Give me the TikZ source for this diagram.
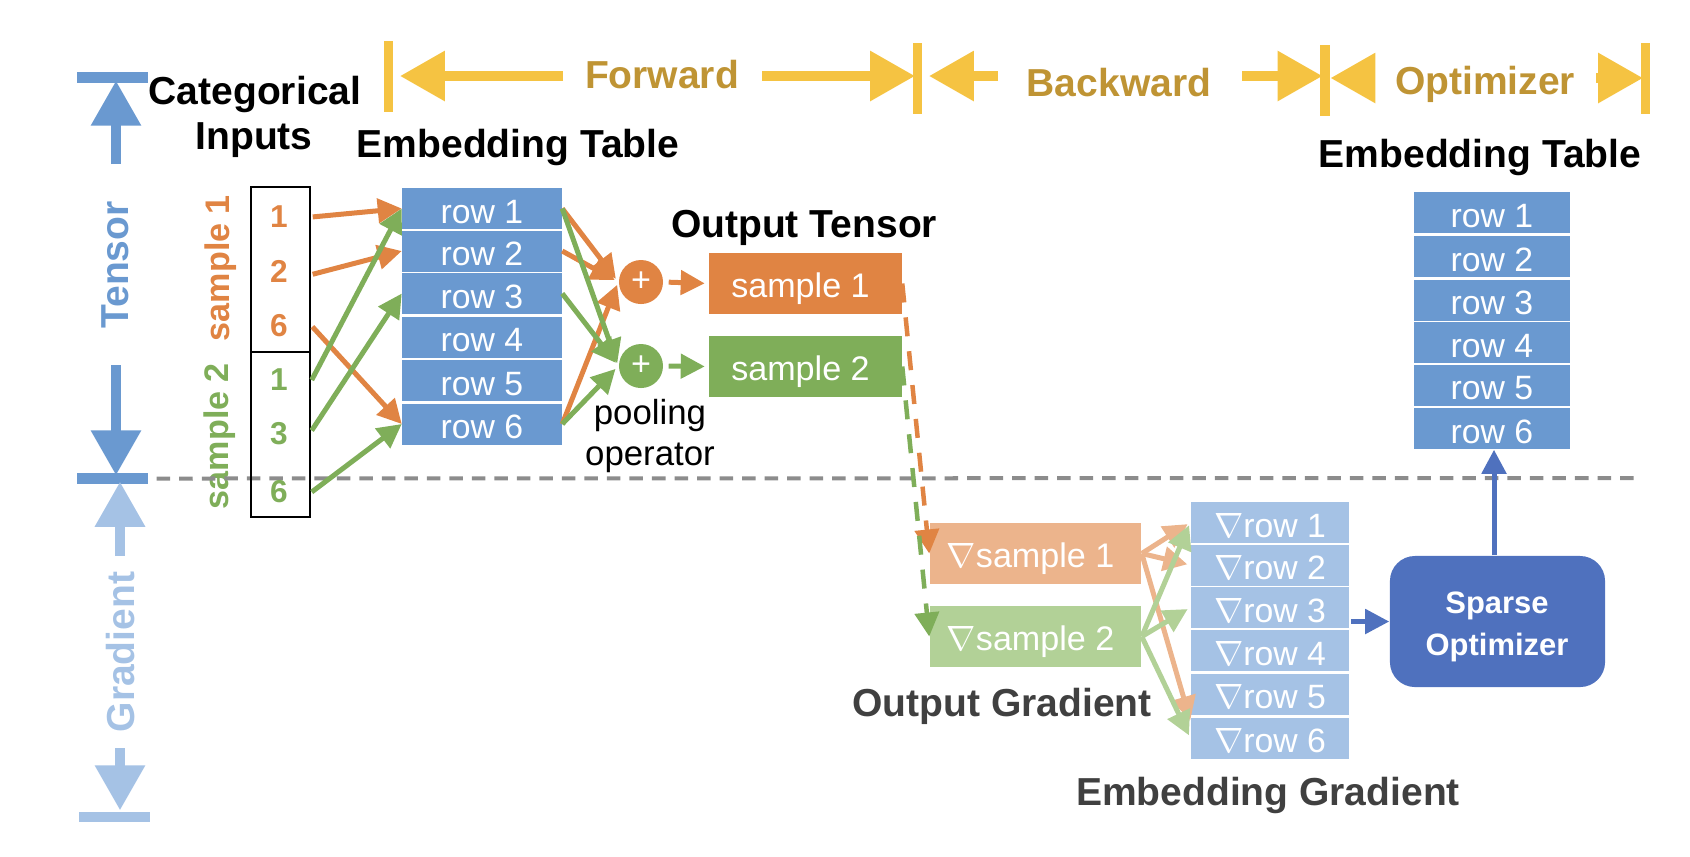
\documentclass[tikz,border=0pt]{standalone}
\usepackage{amsmath}
\usepackage{fontspec}
\setmainfont{Liberation Sans}
\usetikzlibrary{arrows.meta}
\definecolor{tensorblue}{HTML}{6A99D0}
\definecolor{gradblue}{HTML}{A5C2E5}
\definecolor{bandyellow}{HTML}{F5C342}
\definecolor{bandgold}{HTML}{BF9434}
\definecolor{sampleorange}{HTML}{E08443}
\definecolor{samplegreen}{HTML}{7FAE59}
\definecolor{lightorange}{HTML}{ECB48C}
\definecolor{lightgreen}{HTML}{B2D197}
\definecolor{optblue}{HTML}{4F71BE}
\tikzset{
  heading/.style={inner sep=0,font=\fontsize{11.1}{13}\selectfont\bfseries},
  bandtext/.style={heading,text=bandgold},
  sidetext/.style={heading,rotate=90},
  grouptext/.style={inner sep=0,rotate=90,font=\fontsize{9.7}{12}\selectfont\bfseries},
  digit/.style={inner sep=0,minimum width=0.64cm,font=\fontsize{9}{10}\selectfont\bfseries},
  rowbox/.style={fill=tensorblue,text=white,inner sep=0,minimum width=1.59cm,minimum height=0.41cm,text height=8.3pt,text depth=0pt,font=\fontsize{9.6}{11}\selectfont},
  gradrow/.style={rowbox,fill=gradblue},
  samplebox/.style={text=white,inner sep=0,minimum width=1.92cm,minimum height=0.61cm,text height=8pt,text depth=0pt,font=\fontsize{9.7}{11}\selectfont,execute at end node=\kern0.1cm},
  gradbox/.style={samplebox,minimum width=2.11cm,execute at end node=},
  plusdot/.style={circle,text=white,inner sep=0,minimum size=0.44cm,font=\fontsize{9.7}{11}\selectfont},
  barmark/.style={inner sep=0,minimum width=0.095cm,minimum height=0.71cm,fill=bandyellow},
  tickmark/.style={inner sep=0,minimum width=0.71cm,minimum height=0.11cm},
  bigarrow/.style={-{Triangle[length=0.45cm,width=0.48cm]},line width=0.095cm,shorten >=-0.03cm},
  thinarrow/.style={-{Triangle[length=0.24cm,width=0.24cm]},line width=0.05cm},
}
\begin{document}
\begin{tikzpicture}[x=0.01cm,y=-0.01cm]
  \useasboundingbox (0,0) rectangle (1690,856);
  % tensor and gradient scale
  \node[tickmark,fill=tensorblue] (tick1) at (112.5,77.5) {};
  \node[tickmark,fill=tensorblue] (tick2) at (112.5,478.5) {};
  \node[tickmark,fill=gradblue,minimum height=0.10cm] (tick3) at (114.5,817) {};
  \node[sidetext,text=tensorblue] (tensor) at (115,265) {Tensor};
  \node[sidetext,text=gradblue] (gradient) at (121,652) {Gradient};
  \coordinate (tensorup) at (116,164);
  \coordinate (tensordown) at (116,365);
  \coordinate (gradup) at (120,556);
  \coordinate (graddown) at (120,748);
  \draw[bigarrow,tensorblue] (tensorup) -- (tensorup |- tick1.south);
  \draw[bigarrow,tensorblue] (tensordown) -- (tensordown |- tick2.north);
  \draw[bigarrow,gradblue] (gradup) -- (gradup |- tick2.south);
  \draw[bigarrow,gradblue,shorten >=0.01cm] (graddown) -- (graddown |- tick3.north);
  % phase bands
  \node[barmark] (bar1) at (388.5,76.5) {};
  \node[barmark] (bar2) at (917.5,78.5) {};
  \node[barmark] (bar3) at (1325,80.5) {};
  \node[barmark] (bar4) at (1645.5,78.5) {};
  \node[bandtext] (forward) at (662,75) {Forward};
  \node[bandtext] (backward) at (1119,83) {Backward};
  \node[bandtext] (optimizer) at (1485,84) {Optimizer};
  \coordinate (fwdleft) at (563,76);
  \coordinate (fwdright) at (762,76);
  \coordinate (bwdleft) at (998,76);
  \coordinate (bwdright) at (1242,76);
  \coordinate (optleft) at (1374,78);
  \coordinate (optright) at (1596,78);
  \draw[bigarrow,bandyellow,shorten >=0.06cm] (fwdleft) -- (fwdleft -| bar1.east);
  \draw[bigarrow,bandyellow] (fwdright) -- (fwdright -| bar2.west);
  \draw[bigarrow,bandyellow,shorten >=0.06cm] (bwdleft) -- (bwdleft -| bar2.east);
  \draw[bigarrow,bandyellow] (bwdright) -- (bwdright -| bar3.west);
  \draw[bigarrow,bandyellow,shorten >=0pt] (optleft) -- (optleft -| bar3.east);
  \draw[bigarrow,bandyellow] (optright) -- (optright -| bar4.west);
  % headings
  \node[heading] (catA) at (255,94) {Categorical};
  \node[heading] (catB) at (254,140) {Inputs};
  \node[heading] (tableA) at (518,147) {Embedding Table};
  \node[heading] (tableB) at (1480,157) {Embedding Table};
  \node[heading] (outT) at (804,228) {Output Tensor};
  \node[heading,text=black!75] (outG) at (1002,706) {Output Gradient};
  \node[heading,text=black!75] (embG) at (1268,795) {Embedding Gradient};
  % categorical inputs
  \node[grouptext,text=sampleorange] (group1) at (221,268) {sample 1};
  \node[grouptext,text=samplegreen] (group2) at (220,436) {sample 2};
  \draw[gray!90,line width=0.04cm,dash pattern=on 0.135cm off 0.09cm,shorten <=0.08cm] (tick2.east) -- (1634,478);
  \node[draw,line width=0.02cm,inner sep=0,minimum width=0.59cm,minimum height=1.65cm] (box1) at (280.5,269.5) {};
  \node[draw,line width=0.02cm,inner sep=0,minimum width=0.59cm,minimum height=1.645cm] (box2) at (280.5,434.25) {};
  \node[digit,text=sampleorange] (in1) at (279,217) {1};
  \node[digit,text=sampleorange] (in2) at (279,271) {2};
  \node[digit,text=sampleorange] (in3) at (279,326) {6};
  \node[digit,text=samplegreen] (in4) at (279,380) {1};
  \node[digit,text=samplegreen] (in5) at (279,434) {3};
  \node[digit,text=samplegreen] (in6) at (279,492) {6};
  % embedding table
  \node[rowbox] (row1) at (482,208.5) {row 1};
  \node[rowbox] (row2) at (482,251) {row 2};
  \node[rowbox] (row3) at (482,293.5) {row 3};
  \node[rowbox] (row4) at (482,337) {row 4};
  \node[rowbox] (row5) at (482,380.5) {row 5};
  \node[rowbox] (row6) at (482,424) {row 6};
  % input edges
  \draw[thinarrow,sampleorange,shorten <=0.01cm] (in1.east) -- (row1.west);
  \draw[thinarrow,sampleorange,shorten <=0.01cm] ([yshift=-1pt]in2.east) -- (row2.west);
  \draw[thinarrow,sampleorange,shorten <=0.01cm] (in3.east) -- (row6.west);
  \draw[thinarrow,samplegreen] (in4.east) -- (row1.west);
  \draw[thinarrow,samplegreen] ([yshift=1pt]in5.east) -- (row3.west);
  \draw[thinarrow,samplegreen] (in6.east) -- (row6.west);
  % pooling
  \node[plusdot,fill=sampleorange] (plus1) at (641,282) {+};
  \node[plusdot,fill=samplegreen] (plus2) at (641,366) {+};
  \node[inner sep=0,font=\fontsize{9.9}{12}\selectfont] (poolA) at (650,415) {pooling};
  \node[inner sep=0,font=\fontsize{9.9}{12}\selectfont] (poolB) at (650,458) {operator};
  \draw[thinarrow,sampleorange,shorten >=0.04cm] (row1.east) -- (plus1.west);
  \draw[thinarrow,sampleorange,shorten >=0.04cm] (row2.east) -- (plus1.west);
  \draw[thinarrow,sampleorange,shorten >=0.03cm] (row6.east) -- (plus1.west);
  \draw[thinarrow,samplegreen,shorten >=0.03cm] (row1.east) -- (plus2.west);
  \draw[thinarrow,samplegreen,shorten >=0.04cm] (row3.east) -- (plus2.west);
  \draw[thinarrow,samplegreen,shorten >=0.04cm] (row6.east) -- (plus2.west);
  % output tensor
  \node[samplebox,fill=sampleorange] (out1) at (805.5,283.5) {sample 1};
  \node[samplebox,fill=samplegreen] (out2) at (805.5,366.5) {sample 2};
  \draw[thinarrow,sampleorange,shorten <=0.05cm,shorten >=0.04cm] (plus1.east) -- (out1.west);
  \draw[thinarrow,samplegreen,shorten <=0.05cm,shorten >=0.04cm] (plus2.east) -- (out2.west);
  % output gradient
  \node[gradbox,fill=lightorange] (grad1) at (1035.5,553.5) {$\nabla$sample 1};
  \node[gradbox,fill=lightgreen] (grad2) at (1035.5,636.5) {$\nabla$sample 2};
  \draw[thinarrow,sampleorange,dash pattern=on 0.19cm off 0.15cm,line width=0.045cm] (out1.east) -- (grad1.west);
  \draw[thinarrow,samplegreen,dash pattern=on 0.19cm off 0.15cm,line width=0.045cm] (out2.east) -- (grad2.west);
  % embedding gradient
  \node[gradrow,minimum width=1.58cm] (grow1) at (1270,522.5) {$\nabla$row 1};
  \node[gradrow,minimum width=1.58cm] (grow2) at (1270,565) {$\nabla$row 2};
  \node[gradrow,minimum width=1.58cm] (grow3) at (1270,607.5) {$\nabla$row 3};
  \node[gradrow,minimum width=1.58cm] (grow4) at (1270,650.5) {$\nabla$row 4};
  \node[gradrow,minimum width=1.58cm] (grow5) at (1270,694) {$\nabla$row 5};
  \node[gradrow,minimum width=1.58cm] (grow6) at (1270,738) {$\nabla$row 6};
  \draw[thinarrow,lightorange,shorten >=0.03cm] (grad1.east) -- (grow1.west);
  \draw[thinarrow,lightorange,shorten >=0.03cm] (grad1.east) -- (grow2.west);
  \draw[thinarrow,lightorange] (grad1.east) -- ([yshift=-1pt]grow6.north west);
  \draw[thinarrow,lightgreen,shorten >=0.03cm] (grad2.east) -- (grow1.west);
  \draw[thinarrow,lightgreen,shorten >=0.03cm] (grad2.east) -- (grow3.west);
  \draw[thinarrow,lightgreen,shorten >=0.03cm] (grad2.east) -- (grow6.west);
  % sparse optimizer
  \node[fill=optblue,rounded corners=0.25cm,minimum width=2.15cm,minimum height=1.31cm,inner sep=0] (sparse) at (1497.5,621.5) {};
  \node[inner sep=0,text=white,font=\fontsize{8.8}{11}\selectfont\bfseries] (sparseA) at (1497,606) {Sparse};
  \node[inner sep=0,text=white,font=\fontsize{8.8}{11}\selectfont\bfseries] (sparseB) at (1497,647) {Optimizer};
  \draw[thinarrow,optblue,shorten <=0.01cm] (grow4.east |- sparse.west) -- (sparse.west);
  % updated table
  \node[rowbox,minimum width=1.56cm] (new1) at (1492,212.5) {row 1};
  \node[rowbox,minimum width=1.56cm] (new2) at (1492,256.5) {row 2};
  \node[rowbox,minimum width=1.56cm] (new3) at (1492,300) {row 3};
  \node[rowbox,minimum width=1.56cm] (new4) at (1492,342.5) {row 4};
  \node[rowbox,minimum width=1.56cm] (new5) at (1492,385) {row 5};
  \node[rowbox,minimum width=1.56cm] (new6) at (1492,428.5) {row 6};
  \draw[thinarrow,optblue] (sparse.north -| 1494,0) -- (new6.south -| 1494,0);
\end{tikzpicture}
\end{document}
